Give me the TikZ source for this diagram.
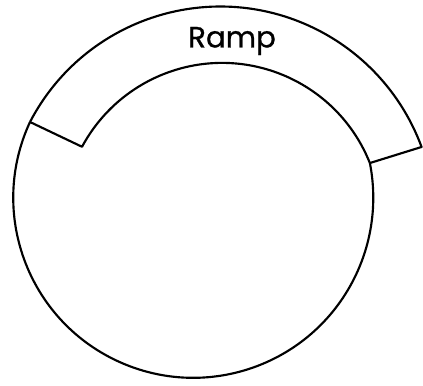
\documentclass[tikz,border=0pt]{standalone}
\usepackage{fontspec}
\newfontfamily\rampfont[FakeBold=0.8]{Poppins}
\begin{document}
\begin{tikzpicture}[x=0.75pt,y=0.75pt,edge/.style={line width=1.6pt,line join=round},label/.style={font=\rampfont\fontsize{22}{26}\selectfont}]
\useasboundingbox (0,0) rectangle (423,385);
\coordinate (outerL) at (30,263);
\coordinate (innerL) at (82,238);
\coordinate (innerR) at (370,222);
\coordinate (outerR) at (421.5,238.3);
% floor and inner edge of the ramp
\draw[edge] (outerL) arc[start angle=155.1,end angle=371.1,radius=180]
  arc[start angle=21.7,end angle=151.8,radius=159] -- (outerL);
% outer edge of the ramp
\draw[edge] (outerL) arc[start angle=152.5,end angle=20.2,radius=214.5] -- (innerR);
\node[label] (ramp) at (232,344) {Ramp};
\end{tikzpicture}
\end{document}
